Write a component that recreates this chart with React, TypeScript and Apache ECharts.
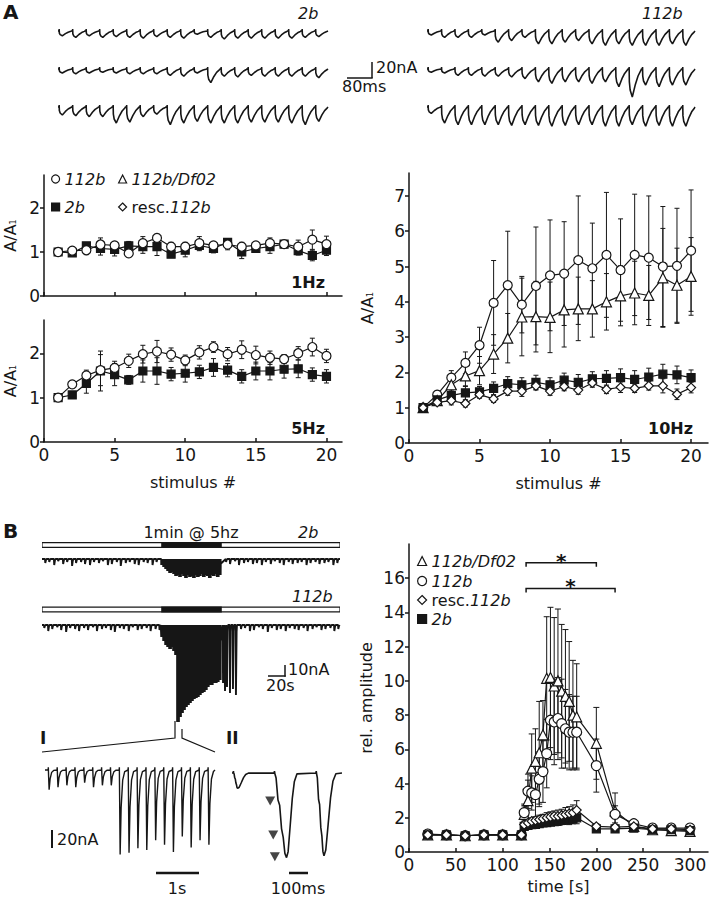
import { useEffect, useRef } from "react";
import * as echarts from "echarts";

const FONT = "'DejaVu Sans', 'Liberation Sans', Arial, sans-serif";
const INK = "#161616";

// ---------------- Panel A: summary data (A/A1 per stimulus #) ----------------
const stimulusNo = [1, 2, 3, 4, 5, 6, 7, 8, 9, 10, 11, 12, 13, 14, 15, 16, 17, 18, 19, 20];
const stimTicks = [0, 5, 10, 15, 20];

const hz1Circle = [1.0, 1.03, 1.04, 1.17, 1.15, 0.97, 1.2, 1.32, 1.12, 1.12, 1.2, 1.15, 1.17, 1.12, 1.15, 1.2, 1.18, 1.12, 1.28, 1.18];
const hz1CircleErr = [0, 0.05, 0.1, 0.15, 0.08, 0.05, 0.15, 0.08, 0.1, 0.1, 0.15, 0.08, 0.12, 0.1, 0.06, 0.12, 0.08, 0.15, 0.22, 0.18];
const hz1Square = [1.0, 0.98, 1.14, 1.08, 1.06, 1.14, 1.12, 1.12, 0.95, 1.04, 1.15, 1.08, 1.22, 1.0, 1.08, 1.12, 1.18, 1.03, 0.92, 1.04];
const hz1SquareErr = [0, 0.05, 0.05, 0.15, 0.15, 0.1, 0.15, 0.2, 0.05, 0.15, 0.12, 0.1, 0.05, 0.15, 0.08, 0.15, 0.08, 0.1, 0.12, 0.12];

const hz5Circle = [1.0, 1.3, 1.5, 1.62, 1.67, 1.83, 1.98, 2.04, 1.97, 1.84, 2.02, 2.14, 1.98, 2.08, 1.96, 1.9, 1.87, 2.0, 2.14, 1.94];
const hz5CircleErr = [0, 0.05, 0.12, 0.35, 0.15, 0.15, 0.2, 0.25, 0.15, 0.12, 0.15, 0.12, 0.15, 0.2, 0.2, 0.15, 0.1, 0.15, 0.2, 0.15];
const hz5Square = [1.0, 1.06, 1.32, 1.6, 1.52, 1.4, 1.6, 1.6, 1.53, 1.55, 1.58, 1.68, 1.62, 1.48, 1.6, 1.6, 1.64, 1.65, 1.52, 1.48];
const hz5SquareErr = [0, 0.05, 0.22, 0.45, 0.25, 0.1, 0.25, 0.3, 0.15, 0.2, 0.15, 0.2, 0.15, 0.15, 0.2, 0.2, 0.2, 0.2, 0.15, 0.15];

const hz10Circle = [1.0, 1.37, 1.85, 2.27, 2.77, 3.97, 4.47, 3.92, 4.45, 4.75, 4.8, 5.18, 4.95, 5.33, 4.9, 5.33, 5.25, 5.0, 5.02, 5.45];
const hz10CircleErr = [0, 0.1, 0.2, 0.31, 0.51, 1.2, 1.53, 0.8, 1.67, 1.57, 1.47, 1.82, 1.28, 1.77, 1.45, 1.72, 1.75, 1.7, 1.63, 1.72];
const hz10Triangle = [1.0, 1.2, 1.65, 1.9, 2.05, 2.52, 2.97, 3.57, 3.58, 3.56, 3.77, 3.8, 3.8, 4.0, 4.17, 4.25, 4.18, 4.68, 4.47, 4.72];
const hz10TriangleErr = [0, 0.08, 0.2, 0.3, 0.4, 0.55, 0.7, 1.1, 1.0, 1.0, 1.05, 0.9, 0.8, 0.8, 0.85, 0.9, 0.85, 1.4, 1.05, 1.1];
const hz10Square = [1.0, 1.22, 1.35, 1.42, 1.45, 1.55, 1.68, 1.65, 1.72, 1.65, 1.78, 1.72, 1.82, 1.83, 1.85, 1.8, 1.87, 1.95, 1.93, 1.85];
const hz10SquareErr = [0, 0.08, 0.15, 0.2, 0.15, 0.18, 0.2, 0.2, 0.2, 0.2, 0.2, 0.22, 0.2, 0.22, 0.25, 0.25, 0.25, 0.28, 0.25, 0.22];
const hz10Diamond = [1.0, 1.15, 1.2, 1.12, 1.37, 1.25, 1.47, 1.47, 1.62, 1.47, 1.6, 1.5, 1.7, 1.52, 1.58, 1.55, 1.62, 1.62, 1.38, 1.57];
const hz10DiamondErr = [0, 0.06, 0.12, 0.1, 0.1, 0.1, 0.12, 0.15, 0.12, 0.12, 0.12, 0.12, 0.12, 0.12, 0.15, 0.12, 0.12, 0.2, 0.15, 0.15];

// ---------------- Panel A: example trains (response amplitudes, nA) ----------------
const train2bRow1 = [6, 8, 6, 8, 7, 8, 9, 7, 8, 9, 4, 8, 10, 9, 9, 9, 9, 9, 8, 7];
const train2bRow2 = [5, 6, 5, 4, 5, 6, 6, 6, 8, 9, 5, 17, 9, 10, 8, 9, 9, 9, 9, 11];
const train2bRow3 = [10, 11, 12, 12, 20, 19, 12, 9, 22, 20, 18, 20, 20, 20, 19, 19, 19, 20, 22, 18];
const train112bRow1 = [5, 8, 8, 8, 5, 14, 12, 8, 16, 16, 14, 12, 16, 18, 16, 18, 18, 18, 16, 18];
const train112bRow2 = [4, 5, 8, 8, 9, 9, 10, 12, 16, 18, 16, 16, 18, 16, 22, 35, 20, 22, 20, 20];
const train112bRow3 = [8, 20, 22, 22, 22, 22, 23, 22, 23, 24, 23, 22, 22, 24, 24, 22, 24, 23, 24, 24];

// ---------------- Panel B: rel. amplitude over time ----------------
const timeB = [20, 40, 60, 80, 100, 120, 123, 127, 131, 135, 139, 143, 147, 151, 155, 159, 163, 167, 171, 175, 179, 200, 220, 240, 260, 280, 300];
const timeTicks = [0, 50, 100, 150, 200, 250, 300];
const relTicks = [0, 2, 4, 6, 8, 10, 12, 14, 16];
const triB = [1.0, 1.0, 0.95, 1.0, 1.0, 1.0, 2.2, 3.0, 4.9, 5.3, 5.8, 6.85, 10.15, 10.2, 9.7, 10.0, 9.4, 9.1, 8.8, 8.0, 7.9, 6.35, 2.4, 1.5, 1.3, 1.25, 1.2];
const triBErr = [0.15, 0.15, 0.1, 0.1, 0.1, 0.15, 0.5, 1.2, 2.0, 1.9, 3.0, 2.0, 3.6, 4.1, 4.0, 4.2, 3.9, 3.9, 3.5, 3.2, 3.1, 2.1, 1.05, 0.2, 0.15, 0.15, 0.15];
const circB = [1.05, 1.0, 0.95, 1.0, 1.0, 1.0, 2.3, 3.55, 3.45, 3.35, 4.25, 4.7, 5.75, 7.7, 7.6, 7.8, 7.5, 7.2, 7.0, 7.0, 7.0, 5.05, 2.2, 1.65, 1.4, 1.4, 1.4];
const circBErr = [0.2, 0.1, 0.1, 0.1, 0.1, 0.1, 0.5, 1.0, 1.0, 1.3, 1.6, 1.8, 2.0, 2.3, 2.5, 2.4, 2.6, 2.3, 2.2, 2.1, 2.1, 1.55, 0.5, 0.2, 0.2, 0.2, 0.2];
const diaB = [1.0, 1.0, 0.95, 1.0, 1.0, 1.0, 1.6, 1.7, 1.8, 1.85, 1.9, 1.95, 2.0, 2.05, 2.1, 2.1, 2.15, 2.2, 2.25, 2.3, 2.45, 1.5, 1.45, 1.5, 1.35, 1.35, 1.3];
const diaBErr = [0.1, 0.1, 0.1, 0.1, 0.1, 0.1, 0.15, 0.2, 0.2, 0.2, 0.25, 0.25, 0.3, 0.3, 0.3, 0.35, 0.35, 0.4, 0.4, 0.45, 0.55, 0.15, 0.15, 0.15, 0.1, 0.1, 0.1];
const sqB = [1.0, 1.0, 0.95, 1.0, 1.0, 1.0, 1.5, 1.55, 1.6, 1.62, 1.65, 1.7, 1.72, 1.75, 1.78, 1.8, 1.85, 1.88, 1.9, 1.95, 2.0, 1.35, 1.35, 1.4, 1.3, 1.3, 1.25];
const sqBErr = [0.1, 0.1, 0.1, 0.1, 0.1, 0.1, 0.1, 0.15, 0.15, 0.15, 0.2, 0.2, 0.2, 0.2, 0.2, 0.25, 0.25, 0.25, 0.3, 0.3, 0.35, 0.1, 0.1, 0.1, 0.1, 0.1, 0.1];
const sigStart = [125, 125];
const sigEnd = [200, 220];
const sigLevel = [16.9, 15.4];

// ---------------- Panel B: long recordings (1 min @ 5 Hz) ----------------
const stimWindow = [120, 180];
const env2b = [6, 8, 10, 12, 14, 13, 15, 17, 16, 18, 15, 17, 19, 16, 18, 17, 19, 16, 18, 17, 15, 18, 16, 17, 19, 16, 17, 15, 18, 16];
const env112b = [12, 16, 20, 22, 24, 22, 26, 30, 97, 92, 88, 85, 82, 80, 78, 76, 74, 73, 72, 70, 68, 67, 65, 62, 60, 60, 58, 58, 57, 55];
const mini2bT = [3, 7, 12, 16, 21, 25, 30, 34, 39, 43, 48, 52, 57, 61, 66, 70, 75, 79, 84, 88, 93, 97, 102, 106, 111, 115, 185, 189, 194, 198, 203, 207, 212, 216, 221, 225, 230, 234, 239, 243, 248, 252, 257, 261, 266, 270, 275, 279, 284, 288, 293, 297];
const mini2bA = [4, 3, 6, 2, 5, 3, 7, 4, 3, 5, 6, 3, 4, 2, 6, 5, 3, 7, 4, 3, 5, 6, 3, 4, 6, 3, 3, 5, 2, 6, 4, 3, 5, 4, 6, 3, 5, 2, 4, 6, 3, 5, 4, 3, 6, 4, 3, 5, 4, 3, 6, 4];
const mini112bT = [2, 6, 10, 15, 19, 24, 28, 33, 37, 42, 46, 51, 55, 60, 64, 69, 73, 78, 82, 87, 91, 96, 100, 105, 109, 114, 118, 200, 204, 209, 213, 218, 222, 227, 231, 236, 240, 245, 249, 254, 258, 263, 267, 272, 276, 281, 285, 290, 294, 298];
const mini112bA = [3, 6, 4, 2, 5, 7, 3, 4, 6, 3, 5, 2, 6, 4, 3, 5, 7, 3, 4, 6, 2, 5, 4, 3, 6, 4, 5, 4, 3, 6, 5, 2, 4, 7, 3, 5, 4, 6, 3, 4, 5, 3, 6, 4, 2, 5, 4, 3, 6, 4];
const burst112bT = [182, 184, 186, 189, 192, 195];
const burst112bA = [58, 66, 62, 68, 64, 70];

// ---------------- Panel B: expanded traces I and II ----------------
const traceIAmp = [22, 19, 17, 19, 14, 19, 17, 17, 94, 92, 87, 89, 78, 83, 91, 74, 86, 78, 83];
const traceIIOnset = [8, 236, 468];
const traceIIAmp = [17, 94, 92];
const traceIIRise = [22, 66, 42];
const traceIIDecay = [60, 58, 66];
const arrowT = [212, 229, 238];
const arrowNA = [-31, -69, -93];

// ---------------- trace construction helpers ----------------
const RESP_MS = 43;
const RESP_SHAPE = [[0, 0], [0.07, 0], [0.1, -0.45], [0.16, -0.75], [0.32, -1], [0.55, -0.55], [0.75, -0.25], [0.95, -0.06]];

function trainTrace(amps: number[]) {
  const pts: number[][] = [];
  amps.forEach((a, k) => {
    const t0 = k * RESP_MS;
    RESP_SHAPE.forEach(([f, r], j) => {
      pts.push([t0 + f * RESP_MS, r * a]);
      if (j === 1) pts.push([t0 + 0.085 * RESP_MS, 2.5]);
    });
  });
  pts.push([amps.length * RESP_MS, 0]);
  return pts;
}

function slowTrace(miniT: number[], miniA: number[], env: number[], burstT: number[], burstA: number[]) {
  const evs: number[][][] = [];
  miniT.forEach((t, i) => {
    const a = miniA[i];
    evs.push([[t, 0], [t + 0.3, -a], [t + 1, -0.25 * a], [t + 1.6, 0]]);
  });
  for (let k = 0; k < env.length * 10; k++) {
    const t = stimWindow[0] + k * 0.2;
    const a = env[Math.floor(k / 10)];
    evs.push([[t, 0], [t + 0.04, -a], [t + 0.13, -0.3 * a]]);
  }
  burstT.forEach((t, i) => {
    const a = burstA[i];
    evs.push([[t, 0], [t + 0.25, -a], [t + 0.9, -0.1 * a], [t + 1.3, 0]]);
  });
  evs.sort((p, q) => p[0][0] - q[0][0]);
  const pts: number[][] = [[0, 0]];
  evs.forEach((e) => pts.push(...e));
  pts.push([300, 0]);
  return pts;
}

function traceI(amps: number[]) {
  const pts: number[][] = [[0, 0]];
  amps.forEach((a, k) => {
    const t = 0.075 + 0.2 * k;
    pts.push([t - 0.004, 0], [t, 3], [t + 0.006, -0.3 * a], [t + 0.018, -a], [t + 0.04, -0.45 * a], [t + 0.075, -0.12 * a], [t + 0.12, -0.02 * a]);
  });
  pts.push([3.83, 0]);
  return pts;
}

const FALL = [[0, 0], [0.12, 0.06], [0.28, 0.32], [0.42, 0.38], [0.58, 0.66], [0.72, 0.76], [0.86, 0.95], [1, 1]];
const RECOVER = [[0.15, 0.93], [0.35, 0.62], [0.55, 0.3], [0.75, 0.1], [1, 0.01]];
function traceII() {
  const pts: number[][] = [[0, 0]];
  traceIIOnset.forEach((o, i) => {
    const a = traceIIAmp[i], r = traceIIRise[i], d = traceIIDecay[i];
    pts.push([o - 2, 0], [o, 2]);
    FALL.forEach(([f, v]) => pts.push([o + 1 + f * r, -v * a]));
    RECOVER.forEach(([f, v]) => pts.push([o + 1 + r + f * d, -v * a]));
  });
  pts.push([611, 0]);
  return pts;
}

// ---------------- chart helpers ----------------
const MK: Record<string, { name: string; symbol: string; size: number; fill: string }> = {
  circ: { name: "112b", symbol: "circle", size: 9, fill: "#fff" },
  tri: { name: "112b/Df02", symbol: "triangle", size: 10, fill: "#fff" },
  dia: { name: "resc.112b", symbol: "diamond", size: 9, fill: "#fff" },
  sq: { name: "2b", symbol: "rect", size: 8, fill: INK },
};

function markerSeries(key: string, xs: number[], ys: number[], axis: number, z: number, size?: number) {
  const mk = MK[key];
  return {
    type: "line", name: mk.name, xAxisIndex: axis, yAxisIndex: axis,
    data: xs.map((x, i) => [x, ys[i]]),
    symbol: mk.symbol, symbolSize: size ?? mk.size, showSymbol: true,
    itemStyle: { color: mk.fill, borderColor: INK, borderWidth: 1.2 },
    lineStyle: { color: INK, width: 1.2 },
    emphasis: { disabled: true }, silent: true, z, clip: false,
  };
}

function errorSeries(name: string, xs: number[], ys: number[], errs: number[], axis: number, cap: number) {
  return {
    type: "custom", name: name + " sem", xAxisIndex: axis, yAxisIndex: axis,
    data: xs.map((x, i) => [x, ys[i], errs[i]]),
    encode: { x: 0, y: 1 },
    silent: true, z: 1, clip: false,
    renderItem: (_p: any, api: any) => {
      const x = api.value(0), y = api.value(1), e = api.value(2);
      if (!e) return { type: "group", children: [] };
      const top = api.coord([x, y + e]);
      const bot = api.coord([x, y - e]);
      const st = { stroke: INK, lineWidth: 1 };
      return {
        type: "group",
        children: [
          { type: "line", shape: { x1: top[0], y1: top[1], x2: bot[0], y2: bot[1] }, style: st },
          { type: "line", shape: { x1: top[0] - cap, y1: top[1], x2: top[0] + cap, y2: top[1] }, style: st },
          { type: "line", shape: { x1: bot[0] - cap, y1: bot[1], x2: bot[0] + cap, y2: bot[1] }, style: st },
        ],
      };
    },
  };
}

function traceSeries(data: number[][], axis: number, width = 1) {
  return {
    type: "line", xAxisIndex: axis, yAxisIndex: axis, data,
    showSymbol: false, symbol: "none", silent: true, clip: false,
    lineStyle: { color: INK, width }, emphasis: { disabled: true }, z: 2,
  };
}

const tickLabelStyle = { fontSize: 17, color: INK, fontFamily: FONT };
const nameStyle = {
  fontSize: 16, color: INK, fontFamily: FONT,
  rich: { s: { fontSize: 8, fontFamily: FONT, color: INK, padding: [7, 0, 0, 0] } },
};

function valueAxis(gridIndex: number, min: number, max: number, ticks: number[], o: any = {}) {
  return {
    type: "value", gridIndex, min, max,
    axisLine: { show: true, onZero: false, lineStyle: { color: INK, width: 1.5 } },
    axisTick: { show: true, inside: !!o.inside, length: 4, customValues: ticks, lineStyle: { color: INK, width: 1.5 } },
    axisLabel: { show: o.labels !== false, customValues: ticks, margin: o.margin ?? 4, ...tickLabelStyle },
    splitLine: { show: false },
    name: o.name, nameLocation: "middle", nameGap: o.gap, nameTextStyle: nameStyle,
  };
}
const hiddenAxis = (gridIndex: number, min: number, max: number) => ({ type: "value", gridIndex, min, max, show: false });

function legendItem(key: string, left: number, top: number, size: number) {
  const mk = MK[key];
  return {
    show: true, selectedMode: false, left, top, orient: "horizontal",
    itemWidth: size, itemHeight: size, itemGap: 0, padding: 0,
    data: [{ name: mk.name, icon: mk.symbol, itemStyle: { color: mk.fill, borderColor: INK, borderWidth: 1.2 } }],
    formatter: (n: string) => (n.startsWith("resc.") ? `{n|resc.}{i|${n.slice(5)}}` : `{i|${n}}`),
    textStyle: {
      fontSize: 16, color: INK, fontFamily: FONT,
      rich: {
        n: { fontSize: 16, color: INK, fontFamily: FONT, fontStyle: "normal" },
        i: { fontSize: 16, color: INK, fontFamily: FONT, fontStyle: "italic" },
      },
    },
  };
}

function txt(text: string, x: number, y: number, o: any = {}) {
  return {
    type: "text", x, y, silent: true,
    style: {
      text, fill: INK, fontFamily: FONT, fontSize: o.size ?? 16,
      fontWeight: o.bold ? "bold" : "normal", fontStyle: o.italic ? "italic" : "normal",
      align: o.align ?? "left", verticalAlign: o.va ?? "middle",
      textAlign: o.align ?? "left", textVerticalAlign: o.va ?? "middle",
    },
  };
}
function ln(x1: number, y1: number, x2: number, y2: number, w = 1.5) {
  return { type: "line", silent: true, shape: { x1, y1, x2, y2 }, style: { stroke: INK, lineWidth: w } };
}
function pl(points: number[][], w = 1.2) {
  return { type: "polyline", silent: true, shape: { points }, style: { stroke: INK, lineWidth: w, fill: "none" } };
}

function buildOption() {
  const trainBase = [31, 69, 107];
  const grids: any[] = [
    { left: 44, top: 175, width: 298, height: 121 },
    { left: 44, top: 320, width: 298, height: 122 },
    { left: 409, top: 173, width: 299, height: 270 },
    { left: 409, top: 544, width: 299, height: 308 },
    ...trainBase.map((b) => ({ left: 58, top: b - 4, width: 270, height: 34.4 })),
    ...trainBase.map((b) => ({ left: 427, top: b - 4, width: 268, height: 34.4 })),
    { left: 42, top: 540, width: 298, height: 10 },
    { left: 42, top: 554, width: 298, height: 35 },
    { left: 42, top: 604.5, width: 298, height: 10 },
    { left: 42, top: 620, width: 298, height: 110 },
    { left: 45, top: 765.5, width: 170, height: 94.5 },
    { left: 232, top: 768.5, width: 110, height: 94.5 },
  ].map((g) => ({ ...g, containLabel: false, outerBoundsMode: "none", show: false }));

  const trainMs = 20 * RESP_MS;
  const xAxis: any[] = [
    valueAxis(0, 0, 21.1, stimTicks, { labels: false, inside: true }),
    valueAxis(1, 0, 21.1, stimTicks, { inside: true, margin: 4, name: "stimulus #", gap: 32 }),
    valueAxis(2, 0, 21.2, stimTicks, { inside: true, margin: 4, name: "stimulus #", gap: 32 }),
    valueAxis(3, 0, 319.2, timeTicks, { inside: true, margin: 4, name: "time [s]", gap: 26 }),
    hiddenAxis(4, 0, trainMs), hiddenAxis(5, 0, trainMs), hiddenAxis(6, 0, trainMs),
    hiddenAxis(7, 0, trainMs), hiddenAxis(8, 0, trainMs), hiddenAxis(9, 0, trainMs),
    hiddenAxis(10, 0, 300), hiddenAxis(11, 0, 300), hiddenAxis(12, 0, 300), hiddenAxis(13, 0, 300),
    hiddenAxis(14, 0, 3.83), hiddenAxis(15, 0, 611),
  ];
  const yAxis: any[] = [
    valueAxis(0, 0, 2.75, [0, 1, 2], { name: "A/A{s|1}", gap: 26 }),
    valueAxis(1, 0, 2.75, [0, 1, 2], { name: "A/A{s|1}", gap: 26 }),
    valueAxis(2, 0, 7.65, [0, 1, 2, 3, 4, 5, 6, 7], { name: "A/A{s|1}", gap: 34 }),
    valueAxis(3, 0, 18, relTicks, { name: "rel. amplitude", gap: 35 }),
    hiddenAxis(4, -38, 5), hiddenAxis(5, -38, 5), hiddenAxis(6, -38, 5),
    hiddenAxis(7, -38, 5), hiddenAxis(8, -38, 5), hiddenAxis(9, -38, 5),
    hiddenAxis(10, 0, 1), hiddenAxis(11, -30, 5), hiddenAxis(12, 0, 1), hiddenAxis(13, -105, 5),
    hiddenAxis(14, -100, 5), hiddenAxis(15, -100, 5),
  ];

  const series: any[] = [
    // 1 Hz
    errorSeries("2b", stimulusNo, hz1Square, hz1SquareErr, 0, 2.5),
    errorSeries("112b", stimulusNo, hz1Circle, hz1CircleErr, 0, 2.5),
    markerSeries("sq", stimulusNo, hz1Square, 0, 3),
    markerSeries("circ", stimulusNo, hz1Circle, 0, 4),
    // 5 Hz
    errorSeries("2b", stimulusNo, hz5Square, hz5SquareErr, 1, 2.5),
    errorSeries("112b", stimulusNo, hz5Circle, hz5CircleErr, 1, 2.5),
    markerSeries("sq", stimulusNo, hz5Square, 1, 3),
    markerSeries("circ", stimulusNo, hz5Circle, 1, 4),
    // 10 Hz
    errorSeries("112b", stimulusNo, hz10Circle, hz10CircleErr, 2, 2.5),
    errorSeries("112b/Df02", stimulusNo, hz10Triangle, hz10TriangleErr, 2, 2.5),
    errorSeries("2b", stimulusNo, hz10Square, hz10SquareErr, 2, 2.5),
    errorSeries("resc.112b", stimulusNo, hz10Diamond, hz10DiamondErr, 2, 2.5),
    markerSeries("circ", stimulusNo, hz10Circle, 2, 3),
    markerSeries("tri", stimulusNo, hz10Triangle, 2, 3),
    markerSeries("sq", stimulusNo, hz10Square, 2, 4),
    markerSeries("dia", stimulusNo, hz10Diamond, 2, 4),
    // B rel. amplitude
    errorSeries("112b/Df02", timeB, triB, triBErr, 3, 3),
    errorSeries("112b", timeB, circB, circBErr, 3, 3),
    errorSeries("resc.112b", timeB, diaB, diaBErr, 3, 3),
    errorSeries("2b", timeB, sqB, sqBErr, 3, 3),
    markerSeries("tri", timeB, triB, 3, 3, 10),
    markerSeries("circ", timeB, circB, 3, 3, 10),
    markerSeries("sq", timeB, sqB, 3, 4, 8),
    markerSeries("dia", timeB, diaB, 3, 4, 9),
    {
      type: "custom", name: "significance", xAxisIndex: 3, yAxisIndex: 3, silent: true, clip: false, z: 5,
      data: sigStart.map((s, i) => [s, sigLevel[i], sigEnd[i]]),
      encode: { x: 0, y: 1 },
      renderItem: (_p: any, api: any) => {
        const p1 = api.coord([api.value(0), api.value(1)]);
        const p2 = api.coord([api.value(2), api.value(1)]);
        return {
          type: "group",
          children: [
            { type: "polyline", shape: { points: [[p1[0], p1[1] + 4], [p1[0], p1[1]], [p2[0], p2[1]], [p2[0], p2[1] + 4]] }, style: { stroke: INK, lineWidth: 1.5, fill: "none" } },
            { type: "text", x: (p1[0] + p2[0]) / 2, y: p1[1] - 2, style: { text: "*", fontSize: 20, fontWeight: "bold", fontFamily: FONT, fill: INK, align: "center", verticalAlign: "middle" } },
          ],
        };
      },
    },
    // A trains
    traceSeries(trainTrace(train2bRow1), 4, 1.6),
    traceSeries(trainTrace(train2bRow2), 5, 1.6),
    traceSeries(trainTrace(train2bRow3), 6, 1.6),
    traceSeries(trainTrace(train112bRow1), 7, 1.6),
    traceSeries(trainTrace(train112bRow2), 8, 1.6),
    traceSeries(trainTrace(train112bRow3), 9, 1.6),
    // B stimulus bars
    ...[10, 12].flatMap((ax) => [
      { type: "line", xAxisIndex: ax, yAxisIndex: ax, data: [[0, 0.5], [300, 0.5]], showSymbol: false, symbol: "none", silent: true, lineStyle: { color: INK, width: 6 }, z: 1 },
      { type: "line", xAxisIndex: ax, yAxisIndex: ax, data: [[0.6, 0.5], [299.4, 0.5]], showSymbol: false, symbol: "none", silent: true, lineStyle: { color: "#fff", width: 3.4 }, z: 2 },
      { type: "line", xAxisIndex: ax, yAxisIndex: ax, data: [[stimWindow[0], 0.5], [stimWindow[1] + 1, 0.5]], showSymbol: false, symbol: "none", silent: true, lineStyle: { color: INK, width: 6 }, z: 3 },
    ]),
    traceSeries(slowTrace(mini2bT, mini2bA, env2b, [], []), 11, 1.9),
    traceSeries(slowTrace(mini112bT, mini112bA, env112b, burst112bT, burst112bA), 13, 1.9),
    traceSeries(traceI(traceIAmp), 14, 1.4),
    traceSeries(traceII(), 15, 1.6),
    {
      type: "scatter", xAxisIndex: 15, yAxisIndex: 15, silent: true, z: 3,
      data: arrowT.map((t, i) => [t, arrowNA[i]]),
      symbol: "triangle", symbolRotate: 180, symbolSize: [10, 9],
      itemStyle: { color: INK },
    },
  ];

  const graphic: any[] = [
    txt("A", 3, 12, { size: 20, bold: true }),
    txt("B", 3, 531, { size: 20, bold: true }),
    txt("2b", 298, 13, { italic: true }),
    txt("112b", 642, 13, { italic: true }),
    ln(372, 62, 372, 78), ln(347, 78, 372.7, 78),
    txt("20nA", 376, 67),
    txt("80ms", 342, 86),
    txt("1min @ 5hz", 191, 532, { align: "center" }),
    txt("2b", 298, 532, { italic: true }),
    txt("112b", 292, 596, { italic: true }),
    ln(285, 665, 285, 676.7), ln(268, 676, 285.7, 676),
    txt("10nA", 288, 669),
    txt("20s", 266, 685),
    txt("I", 40, 738, { bold: true, size: 17 }),
    txt("II", 226, 738, { bold: true, size: 17 }),
    pl([[42, 752], [175, 738], [175, 721]]),
    pl([[182, 729], [182, 738], [215, 752]]),
    ln(52, 830, 52, 848, 2),
    txt("20nA", 57, 839),
    ln(156, 873, 199, 873, 2.5),
    txt("1s", 177, 888, { align: "center" }),
    ln(289, 873, 308, 873, 2.5),
    txt("100ms", 298, 888, { align: "center" }),
    txt("1Hz", 325, 282, { bold: true, align: "right" }),
    txt("5Hz", 325, 428, { bold: true, align: "right" }),
    txt("10Hz", 693, 428, { bold: true, align: "right" }),
  ];

  const legend = [
    legendItem("circ", 51, 171, 8),
    legendItem("tri", 118, 171, 8),
    legendItem("sq", 51, 199, 8),
    legendItem("dia", 118, 199, 8),
    legendItem("tri", 417, 553, 9),
    legendItem("circ", 417, 573, 9),
    legendItem("dia", 417, 592, 9),
    legendItem("sq", 417, 611, 9),
  ];

  return {
    animation: false,
    backgroundColor: "#ffffff",
    textStyle: { fontFamily: FONT },
    tooltip: { show: false },
    grid: grids,
    xAxis,
    yAxis,
    legend,
    series,
    graphic,
  };
}

export default function App() {
  const ref = useRef<HTMLDivElement>(null);
  useEffect(() => {
    if (!ref.current) return;
    const chart = echarts.init(ref.current, undefined, { renderer: "svg" });
    chart.setOption(buildOption() as any);
    return () => chart.dispose();
  }, []);
  return (
    <div
      ref={ref}
      style={{ position: "absolute", left: 0, top: 0, width: 711, height: 899, background: "#fff" }}
    />
  );
}
